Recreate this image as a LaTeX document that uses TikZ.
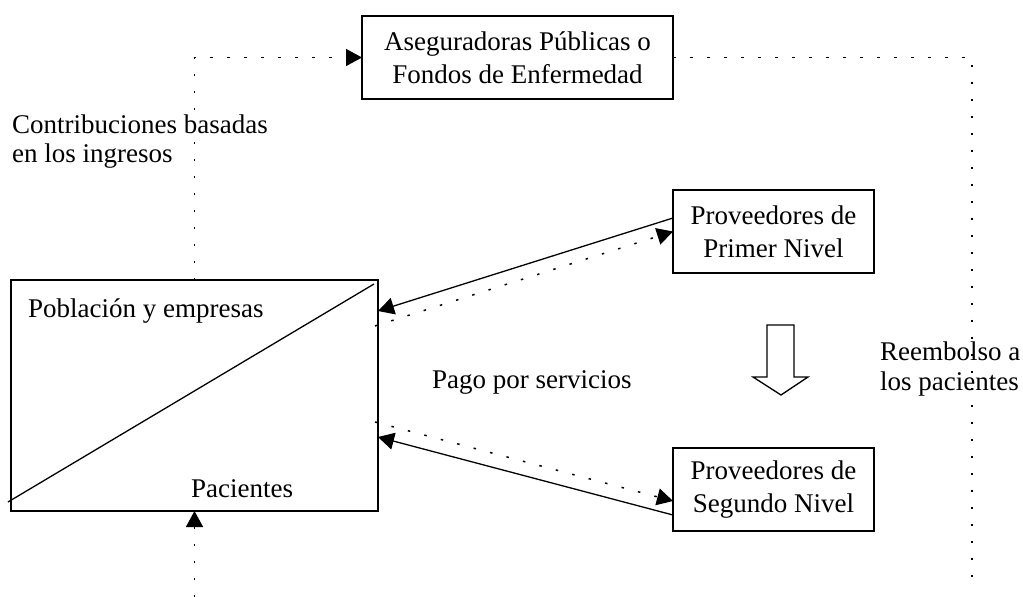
\documentclass[tikz,border=0pt]{standalone}
\usepackage{fontspec}
\setmainfont{Liberation Serif}
\usetikzlibrary{arrows.meta,calc}
\begin{document}
\begin{tikzpicture}[x=1pt,y=-1pt,
  every node/.style={font=\fontsize{27}{33}\selectfont},
  box/.style={draw, line width=1.5pt, inner sep=0pt, outer sep=0pt, align=center},
  lbl/.style={anchor=base west, inner sep=0pt},
  dotline/.style={line width=1.5pt, dash pattern=on 2.5pt off 14.5pt},
  solidline/.style={line width=1.3pt},
  tip/.style={-{Triangle[length=16pt,width=17pt]}}
]
\useasboundingbox (0,0) rectangle (1023,597);
% boxes
\node[box, minimum width=311pt, minimum height=83pt] (ins) at (517.5,57.5) {Aseguradoras Públicas o\\Fondos de Enfermedad};
\node[box, minimum width=367pt, minimum height=231pt] (pop) at (194.5,395.5) {};
\node[box, minimum width=201pt, minimum height=83pt] (p1) at (773.5,231.5) {Proveedores de\\Primer Nivel};
\node[box, minimum width=201pt, minimum height=83pt] (p2) at (773.5,489.5) {Proveedores de\\Segundo Nivel};
% labels
\node[lbl] (popl) at (28,317) {Población y empresas};
\node[lbl] (pacl) at (191,497) {Pacientes};
\node[lbl] (contr1) at (12,133) {Contribuciones basadas};
\node[lbl] (contr2) at (12,162) {en los ingresos};
\node[lbl] (pago) at (432,388) {Pago por servicios};
\node[lbl] (reem1) at (880,360) {Reembolso a};
\node[lbl] (reem2) at (880,390) {los pacientes};
% diagonal in population box
\draw[solidline] ($(pop.south west)+(-3,-9)$) -- ($(pop.north east)+(-4,4)$);
% first level connectors
\draw[solidline,tip] ($(p1.west)+(0,-13.5)$) -- ($(pop.east)+(0,-84.5)$);
\draw[dotline,tip] ($(pop.east)+(-3,-69.5)$) -- (p1.west);
% second level connectors
\draw[solidline,tip] ($(p2.west)+(0,25.5)$) -- ($(pop.east)+(0,41.5)$);
\draw[dotline,tip] ($(pop.east)+(-3,26.5)$) -- ($(p2.west)+(0,11.5)$);
% contributions
\draw[dotline,tip] (pop.north) |- (ins.west);
% reimbursement
\coordinate (rend) at (972,590);
\draw[dotline] (ins.east) -| (rend);
% patients from below
\coordinate (bstart) at (194.5,597);
\draw[dotline,tip] (bstart) -- (pop.south);
% hollow arrow
\draw[line width=1.3pt] (767,325) -- (794,325) -- (794,377) -- (808,377) -- (781,395) -- (753,377) -- (767,377) -- cycle;
\end{tikzpicture}
\end{document}
